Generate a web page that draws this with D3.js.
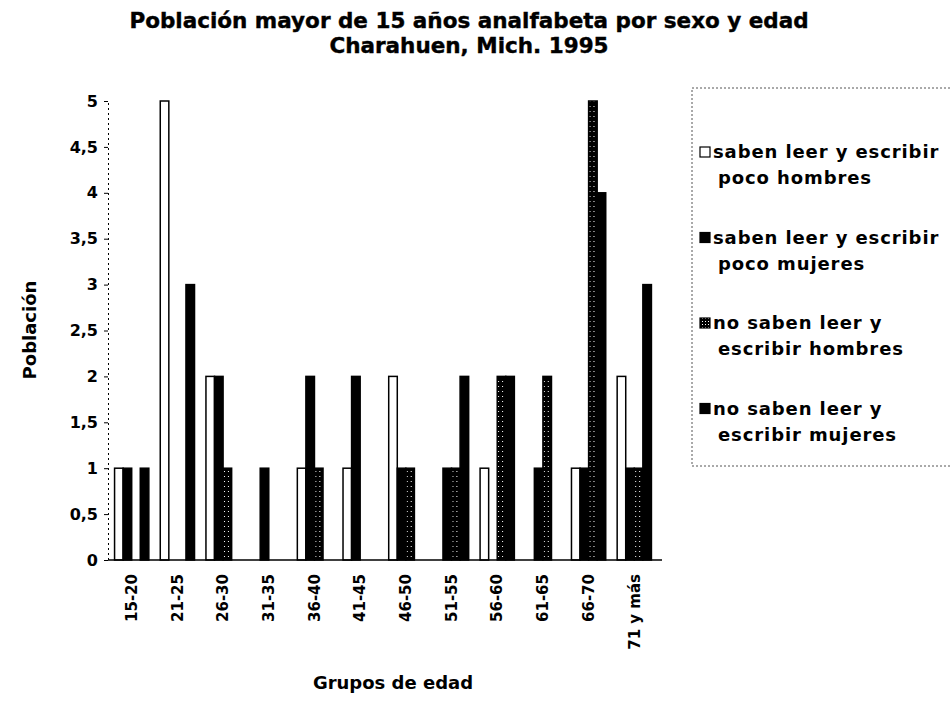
<!DOCTYPE html>
<html>
<head>
<meta charset="utf-8">
<script src="https://cdn.jsdelivr.net/npm/d3@7"></script>
<style>
  body { margin: 0; background: #fff; }
  svg { display: block; }
  text { font-family: "DejaVu Sans", "Liberation Sans", sans-serif; font-weight: bold; fill: #000; }
</style>
</head>
<body>
<svg id="chart" width="951" height="714"></svg>
<script>
// age groups
const categories = ['15-20', '21-25', '26-30', '31-35', '36-40', '41-45',
  '46-50', '51-55', '56-60', '61-65', '66-70', '71 y más'];

// series values (people)
const sabenPocoHombres = [1, 5, 2, 0, 1, 1, 2, 0, 1, 0, 1, 2];
const sabenPocoMujeres = [1, 0, 2, 1, 2, 2, 1, 1, 0, 1, 1, 1];
const noSabenHombres   = [0, 0, 1, 0, 1, 0, 1, 1, 2, 2, 5, 1];
const noSabenMujeres   = [1, 3, 0, 0, 0, 0, 0, 2, 2, 0, 4, 3];

const seriesLabels = [
  ['saben leer y escribir', 'poco  hombres'],
  ['saben leer y escribir', 'poco  mujeres'],
  ['no saben leer y', 'escribir hombres'],
  ['no saben leer y', 'escribir mujeres']
];

const yTicks = [0, 0.5, 1, 1.5, 2, 2.5, 3, 3.5, 4, 4.5, 5];

const titleLines = ['Población mayor de 15 años analfabeta por sexo y edad', 'Charahuen, Mich. 1995'];

let svg = d3.select('#chart');

let plot = { left: 108, right: 662, top: 101, bottom: 560 };

let series = [sabenPocoHombres, sabenPocoMujeres, noSabenHombres, noSabenMujeres];

// patterned fills for the "no saben hombres" series
let defs = svg.append('defs');
let pat = defs.append('pattern')
  .attr('id', 'dots')
  .attr('patternUnits', 'userSpaceOnUse')
  .attr('width', 4)
  .attr('height', 5);
pat.append('rect').attr('width', 4).attr('height', 5).attr('fill', '#000');
pat.append('rect').attr('x', 2).attr('y', 1).attr('width', 1).attr('height', 1).attr('fill', '#fff');

let pat2 = defs.append('pattern')
  .attr('id', 'grid')
  .attr('patternUnits', 'userSpaceOnUse')
  .attr('width', 3)
  .attr('height', 3);
pat2.append('rect').attr('width', 3).attr('height', 3).attr('fill', '#000');
pat2.append('rect').attr('x', 1).attr('y', 1).attr('width', 1).attr('height', 1).attr('fill', '#fff');

let fills = ['#fff', '#000', 'url(#dots)', '#000'];
let swatchFills = ['#fff', '#000', 'url(#grid)', '#000'];

// scales
let x0 = d3.scaleBand()
  .domain(categories)
  .range([110, 656])
  .paddingInner(0.25)
  .paddingOuter(0.1);

let x1 = d3.scaleBand()
  .domain(d3.range(series.length))
  .range([0, x0.bandwidth()]);

let y = d3.scaleLinear()
  .domain([0, 5])
  .range([plot.bottom, plot.top]);

// titles
svg.selectAll('.title')
  .data(titleLines)
  .enter()
  .append('text')
  .attr('class', 'title')
  .attr('x', 469)
  .attr('y', (d, i) => 28 + i * 25)
  .attr('text-anchor', 'middle')
  .style('font-size', '21.5px')
  .style('stroke', '#000')
  .style('stroke-width', 0.4)
  .text(d => d);

// bars
let groups = svg.selectAll('.grp')
  .data(categories)
  .enter()
  .append('g')
  .attr('class', 'grp')
  .attr('transform', d => `translate(${x0(d)},0)`);

groups.selectAll('rect')
  .data((d, i) => series.map((s, k) => ({ k: k, v: s[i] })))
  .enter()
  .append('rect')
  .filter(d => d.v > 0)
  .attr('x', d => x1(d.k))
  .attr('y', d => y(d.v))
  .attr('width', x1.bandwidth())
  .attr('height', d => y(0) - y(d.v))
  .attr('fill', d => fills[d.k])
  .attr('stroke', '#000')
  .attr('stroke-width', 1.5);

// y axis
let yAxis = svg.append('g')
  .attr('transform', `translate(${plot.left},0)`)
  .call(d3.axisLeft(y)
    .tickValues(yTicks)
    .tickSize(4)
    .tickFormat(d => String(d).replace('.', ',')));
yAxis.select('.domain')
  .attr('stroke', '#000')
  .attr('stroke-dasharray', '2,3');
yAxis.selectAll('text')
  .attr('x', -10)
  .style('font-size', '16px');

// x axis
let xAxis = svg.append('g')
  .attr('transform', `translate(0,${plot.bottom})`)
  .call(d3.axisBottom(x0).tickSize(0).tickSizeOuter(0));
xAxis.select('.domain')
  .attr('d', `M${plot.left},0H${plot.right}`)
  .attr('stroke', '#000')
  .attr('stroke-width', 1.5);
xAxis.selectAll('text')
  .attr('transform', 'rotate(-90)')
  .attr('x', -14)
  .attr('y', 0)
  .attr('dy', '0.35em')
  .style('text-anchor', 'end')
  .style('font-size', '15px');

// axis titles
svg.append('text')
  .attr('transform', 'translate(36,330) rotate(-90)')
  .attr('text-anchor', 'middle')
  .style('font-size', '18px')
  .text('Población');

svg.append('text')
  .attr('x', 393)
  .attr('y', 689)
  .attr('text-anchor', 'middle')
  .style('font-size', '18px')
  .text('Grupos de edad');

// legend
let legend = svg.append('g').attr('transform', 'translate(692,88)');
legend.append('rect')
  .attr('width', 262)
  .attr('height', 378)
  .attr('fill', 'none')
  .attr('stroke', '#555')
  .attr('stroke-dasharray', '2,2');

let item = legend.selectAll('.item')
  .data(seriesLabels)
  .enter()
  .append('g')
  .attr('class', 'item')
  .attr('transform', (d, i) => `translate(0,${70 + i * 85.5})`);

item.append('rect')
  .attr('x', 8)
  .attr('y', -11)
  .attr('width', 10)
  .attr('height', 10)
  .attr('fill', (d, i) => swatchFills[i])
  .attr('stroke', '#000')
  .attr('stroke-width', 1.2);

item.append('text')
  .attr('x', 21)
  .attr('y', 0)
  .style('font-size', '18px')
  .style('letter-spacing', '0.9px')
  .text(d => d[0]);

item.append('text')
  .attr('x', 26)
  .attr('y', 26)
  .style('font-size', '18px')
  .style('letter-spacing', '0.9px')
  .text(d => d[1]);
</script>
</body>
</html>
